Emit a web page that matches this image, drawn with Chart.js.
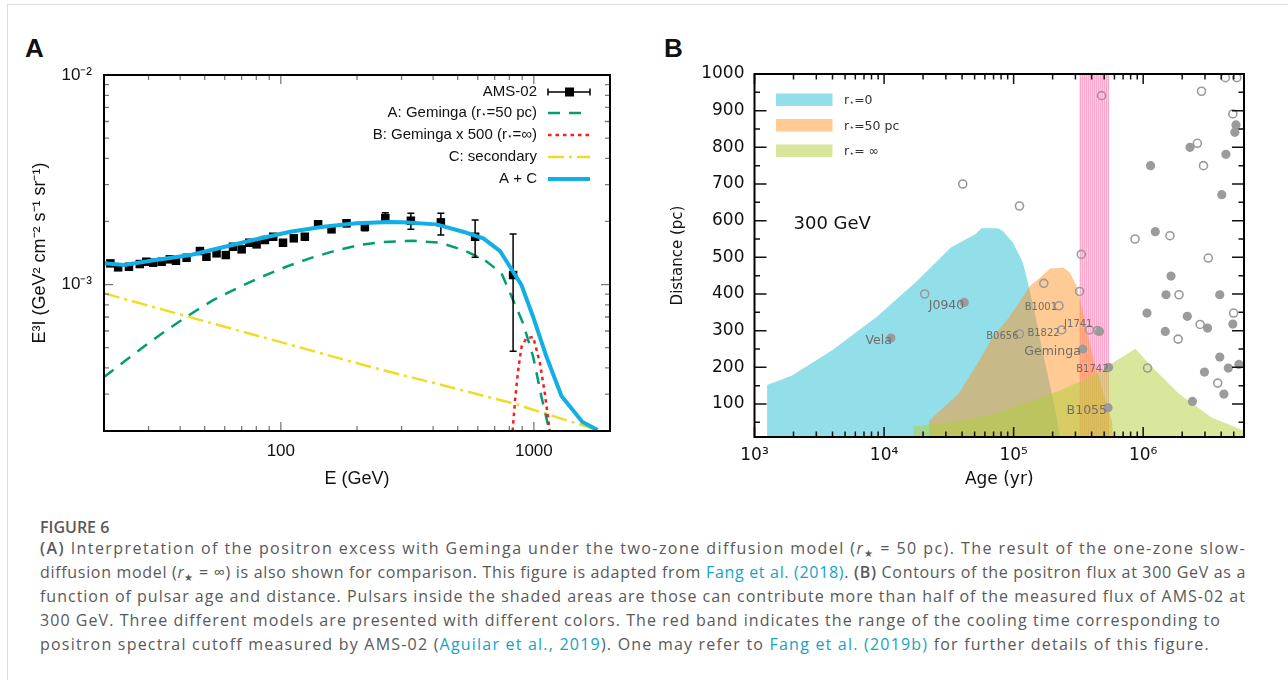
<!DOCTYPE html>
<html>
<head>
<meta charset="utf-8">
<title>Figure 6</title>
<script src="https://cdn.jsdelivr.net/npm/chart.js@4.4.1/dist/chart.umd.min.js"></script>
<style>
  html, body { margin: 0; padding: 0; background: #fff; }
  body { width: 1288px; height: 680px; position: relative; overflow: hidden; }
  .card { position: absolute; left: 7px; top: 4px; width: 1300px; height: 700px; border-left: 1px solid #dcdcdc; border-top: 1px solid #dcdcdc; }
  .tag { position: absolute; top: 33px; font: bold 26px "Liberation Sans", Arial, sans-serif; line-height: 30px; color: #111; }
  canvas { position: absolute; top: 0; }
  #chartA { left: 0; }
  #chartB { left: 640px; }
  .ln { position: absolute; left: 40px; white-space: nowrap; width: max-content; line-height: 24px;
        font-family: "Open Sans", sans-serif; font-size: 16px; color: #595959; }
  .ln.fig { font-weight: 600; font-size: 16px; color: #595959; }
  .ln a { color: #17a2c2; text-decoration: none; }
  .ln b { font-weight: 600; }
  .ln sub { font-size: 10px; vertical-align: -3px; }
</style>
</head>
<body>
<div class="card"></div>
<div class="tag" style="left:25px">A</div>
<div class="tag" style="left:664px">B</div>
<canvas id="chartA" width="640" height="500"></canvas>
<canvas id="chartB" width="648" height="500"></canvas>

<div class="ln fig" style="top:515px">FIGURE 6</div>
<div class="ln" style="top:536px" data-w="1206"><b>(A)</b> Interpretation of the positron excess with Geminga under the two-zone diffusion model (<i>r</i><sub>★</sub> = 50 pc). The result of the one-zone slow-</div>
<div class="ln" style="top:560px" data-w="1206">diffusion model (<i>r</i><sub>★</sub> = ∞) is also shown for comparison. This figure is adapted from <a>Fang et al. (2018)</a>. <b>(B)</b> Contours of the positron flux at 300 GeV as a</div>
<div class="ln" style="top:584px" data-w="1206">function of pulsar age and distance. Pulsars inside the shaded areas are those can contribute more than half of the measured flux of AMS-02 at</div>
<div class="ln" style="top:608px" data-w="1181">300 GeV. Three different models are presented with different colors. The red band indicates the range of the cooling time corresponding to</div>
<div class="ln" style="top:632px" data-w="1170">positron spectral cutoff measured by AMS-02 (<a>Aguilar et al., 2019</a>). One may refer to <a>Fang et al. (2019b)</a> for further details of this figure.</div>

<script>
/* ── Panel A: positron spectrum ── */
const AMS_E    = [21.2, 22.75, 25.1, 27.7, 29.4, 31.3, 33.8, 36.4, 38.5, 42.4, 47.9, 50.8, 55.7, 60.6, 64.7, 70.0,
                  75.0, 80.2, 86.5, 93.3, 102, 112.5, 124.4, 140.4, 158.6, 181.8, 214.8, 258.8, 326.6, 429, 586, 828];
const AMS_FLUX = [1.262e-3, 1.208e-3, 1.216e-3, 1.253e-3, 1.285e-3, 1.271e-3, 1.285e-3, 1.319e-3, 1.299e-3, 1.342e-3,
                  1.445e-3, 1.357e-3, 1.409e-3, 1.383e-3, 1.515e-3, 1.472e-3, 1.583e-3, 1.555e-3, 1.631e-3, 1.691e-3,
                  1.583e-3, 1.662e-3, 1.691e-3, 1.939e-3, 1.834e-3, 1.960e-3, 1.888e-3, 2.077e-3, 2.016e-3, 1.981e-3,
                  1.691e-3, 1.110e-3];
const AMS_ERR_DN = [0.03e-3, 0.03e-3, 0.03e-3, 0.03e-3, 0.03e-3, 0.03e-3, 0.03e-3, 0.03e-3, 0.03e-3, 0.03e-3,
                    0.03e-3, 0.03e-3, 0.03e-3, 0.03e-3, 0.04e-3, 0.04e-3, 0.04e-3, 0.04e-3, 0.04e-3, 0.04e-3,
                    0.05e-3, 0.05e-3, 0.05e-3, 0.06e-3, 0.06e-3, 0.07e-3, 0.08e-3, 0.117e-3, 0.182e-3, 0.258e-3,
                    0.343e-3, 0.629e-3];
const AMS_ERR_UP = [0.03e-3, 0.03e-3, 0.03e-3, 0.03e-3, 0.03e-3, 0.03e-3, 0.03e-3, 0.03e-3, 0.03e-3, 0.03e-3,
                    0.03e-3, 0.03e-3, 0.03e-3, 0.03e-3, 0.04e-3, 0.04e-3, 0.04e-3, 0.04e-3, 0.04e-3, 0.04e-3,
                    0.05e-3, 0.05e-3, 0.05e-3, 0.06e-3, 0.06e-3, 0.07e-3, 0.08e-3, 0.125e-3, 0.172e-3, 0.207e-3,
                    0.341e-3, 0.632e-3];

const GEM_E    = [20, 25, 30, 35, 40, 47, 54, 67, 83, 105, 130, 164, 205, 250, 333, 425, 526, 640, 745, 828, 907, 994, 1072, 1150];
const GEM_FLUX = [0.362e-3, 0.445e-3, 0.525e-3, 0.600e-3, 0.670e-3, 0.760e-3, 0.843e-3, 0.959e-3, 1.082e-3, 1.216e-3,
                  1.334e-3, 1.450e-3, 1.544e-3, 1.595e-3, 1.618e-3, 1.583e-3, 1.461e-3, 1.309e-3, 1.131e-3, 0.843e-3,
                  0.653e-3, 0.452e-3, 0.291e-3, 0.202e-3];

const GEM500_E    = [824, 845, 867, 894, 935, 994, 1057, 1105, 1156];
const GEM500_FLUX = [0.200e-3, 0.290e-3, 0.390e-3, 0.505e-3, 0.554e-3, 0.563e-3, 0.421e-3, 0.303e-3, 0.200e-3];

const SEC_E    = [20, 50, 100, 225, 500, 828, 1000, 1786];
const SEC_FLUX = [0.908e-3, 0.668e-3, 0.531e-3, 0.405e-3, 0.317e-3, 0.271e-3, 0.252e-3, 0.202e-3];

const SUM_E    = [20, 24, 32, 44, 59, 80, 109, 147, 199, 270, 304, 412, 525, 631, 734, 893, 993, 1122, 1286, 1556, 1786];
const SUM_FLUX = [1.262e-3, 1.239e-3, 1.309e-3, 1.383e-3, 1.506e-3, 1.644e-3, 1.787e-3, 1.888e-3, 1.959e-3, 1.987e-3,
                  1.982e-3, 1.937e-3, 1.787e-3, 1.662e-3, 1.449e-3, 0.995e-3, 0.702e-3, 0.452e-3, 0.294e-3, 0.221e-3, 0.202e-3];

const A_X_TICKS = [100, 1000];
const A_X_TICK_LABELS = ['100', '1000'];
const A_X_MINOR = [30, 40, 50, 60, 70, 80, 90, 200, 300, 400, 500, 600, 700, 800, 900];
const A_Y_TICKS = [1e-3, 1e-2];
const A_Y_TICK_LABELS = ['10⁻³', '10⁻²'];
const A_Y_MINOR = [3e-4, 4e-4, 5e-4, 6e-4, 7e-4, 8e-4, 9e-4, 2e-3, 3e-3, 4e-3, 5e-3, 6e-3, 7e-3, 8e-3, 9e-3];

/* ── Panel B: pulsar age vs distance ── */
const CYAN_AGE  = [1.25e3, 1.95e3, 4.0e3, 8.9e3, 1.84e4, 3.28e4, 5.06e4, 5.65e4, 7.54e4, 8.26e4, 9.9e4, 1.18e5,
                   1.29e5, 1.46e5, 1.64e5, 1.85e5, 2.08e5, 2.28e5];
const CYAN_DIST = [152, 178, 247, 339, 439, 527, 563, 579, 579, 572, 540, 485, 430, 348, 256, 173, 91, 10];

const ORANGE_AGE  = [2.22e4, 3.75e4, 5.45e4, 6.9e4, 9.3e4, 1.33e5, 1.64e5, 1.9e5, 2.42e5, 2.72e5, 3.07e5, 3.36e5,
                     3.67e5, 4.02e5, 4.39e5, 4.95e5, 5.41e5, 5.74e5, 5.85e5];
const ORANGE_DIST = [54, 127, 219, 283, 338, 421, 448, 469, 472, 458, 421, 366, 302, 238, 192, 127, 82, 54, 10];

const GREEN_AGE  = [1.68e4, 3.8e4, 6.9e4, 1.26e5, 2.28e5, 4.13e5, 6.28e5, 8.7e5, 1.14e6, 1.89e6, 3.37e6, 6.0e6];
const GREEN_DIST = [38, 54, 72, 104, 137, 178, 219, 251, 205, 128, 63, 27];

const BAND_AGE  = [3.21e5, 5.47e5];
const BAND_DIST = [1000, 1000];

const FILLED_AGE  = [1.13e4, 4.16e4, 3.42e5, 5.4e5, 5.35e5, 4.6e5, 1.14e6, 1.24e6, 1.07e6, 1.64e6, 1.5e6, 1.48e6,
                     2.19e6, 2.3e6, 2.4e6, 2.97e6, 3.14e6, 3.9e6, 3.9e6, 4.04e6, 4.35e6, 4.2e6, 4.54e6, 4.92e6,
                     5.1e6, 5.2e6, 5.48e6];
const FILLED_DIST = [280, 377, 250, 200, 90, 298, 750, 570, 348, 449, 398, 298,
                     339, 800, 107, 187, 307, 398, 228, 671, 781, 127, 198, 318,
                     841, 861, 208];
const OPEN_AGE  = [4.05e4, 2.06e4, 1.11e5, 1.11e5, 1.71e5, 2.24e5, 2.35e5, 3.33e5, 3.23e5, 3.85e5, 4.45e5, 4.78e5,
                   8.65e5, 1.08e6, 1.61e6, 1.89e6, 1.86e6, 2.62e6, 2.75e6, 2.82e6, 2.92e6, 3.18e6, 3.76e6, 4.31e6,
                   4.92e6, 4.99e6, 5.28e6];
const OPEN_DIST = [700, 400, 640, 291, 429, 368, 302, 508, 407, 302, 300, 941,
                   550, 198, 559, 398, 277, 811, 317, 953, 750, 498, 157, 990,
                   891, 348, 990];

const NAMED_PSR  = ['Vela', 'J0940', 'B0656', 'B1001', 'B1822', 'J1741', 'Geminga', 'B1742', 'B1055'];
const NAMED_AGE  = [1.13e4, 4.16e4, 1.11e5, 2.24e5, 2.35e5, 3.85e5, 3.42e5, 5.4e5, 5.35e5];
const NAMED_DIST = [280, 377, 291, 368, 302, 302, 250, 200, 90];

const B_X_TICKS = [1e3, 1e4, 1e5, 1e6];
const B_X_TICK_LABELS = ['10³', '10⁴', '10⁵', '10⁶'];
const B_X_MINOR = [2e3, 3e3, 4e3, 5e3, 6e3, 7e3, 8e3, 9e3, 2e4, 3e4, 4e4, 5e4, 6e4, 7e4, 8e4, 9e4,
                   2e5, 3e5, 4e5, 5e5, 6e5, 7e5, 8e5, 9e5, 2e6, 3e6, 4e6, 5e6];
const B_Y_TICKS = [100, 200, 300, 400, 500, 600, 700, 800, 900, 1000];
const B_Y_MINOR = [50, 150, 250, 350, 450, 550, 650, 750, 850, 950];

const LEGEND_B = ['r⋆=0', 'r⋆=50 pc', 'r⋆= ∞'];

const FONT_A = '"Liberation Sans", Arial, sans-serif';
const FONT_B = '"DejaVu Sans", sans-serif';

const pairs = (xs, ys) => xs.map((x, i) => ({ x, y: ys[i] }));

// text with a small star subscript (r⋆)
function starText(ctx, text, x, y, align, font, smallFont) {
  const parts = text.split('⋆');
  const segs = [];
  parts.forEach((p, i) => {
    if (i > 0) segs.push({ t: '⋆', small: true });
    if (p) segs.push({ t: p, small: false });
  });
  let w = 0;
  segs.forEach(s => { ctx.font = s.small ? smallFont : font; w += ctx.measureText(s.t).width; });
  let cx = align === 'right' ? x - w : x;
  ctx.textAlign = 'left';
  segs.forEach(s => {
    ctx.font = s.small ? smallFont : font;
    ctx.fillText(s.t, cx, y + (s.small ? 1.5 : 0));
    cx += ctx.measureText(s.t).width;
  });
}

// inward ticks on all four sides plus the box
function boxTicks(o) {
  return {
    id: 'boxTicks',
    afterDatasetsDraw(chart) {
      const { ctx, chartArea: { left, right, top, bottom }, scales: { x, y } } = chart;
      ctx.save();
      ctx.strokeStyle = o.color;
      ctx.lineWidth = o.width;
      ctx.beginPath();
      const xt = (vals, len) => vals.forEach(v => {
        const px = x.getPixelForValue(v);
        ctx.moveTo(px, bottom); ctx.lineTo(px, bottom - len);
        ctx.moveTo(px, top); ctx.lineTo(px, top + len);
      });
      const yt = (vals, len) => vals.forEach(v => {
        const py = y.getPixelForValue(v);
        ctx.moveTo(left, py); ctx.lineTo(left + len, py);
        ctx.moveTo(right, py); ctx.lineTo(right - len, py);
      });
      xt(o.xMajor, o.major); xt(o.xMinor, o.minor);
      yt(o.yMajor, o.yMajorLen || o.major); yt(o.yMinor, o.minor);
      ctx.stroke();
      ctx.strokeStyle = '#000';
      ctx.lineWidth = 2;
      ctx.strokeRect(left, top, right - left, bottom - top);
      ctx.restore();
    }
  };
}

/* ── Chart A ── */
const errorBars = {
  id: 'errorBars',
  afterDatasetDraw(chart, args) {
    const ds = chart.data.datasets[args.index];
    if (!ds.errDown) return;
    const { ctx, chartArea: ca, scales: { x, y } } = chart;
    ctx.save();
    ctx.beginPath();
    ctx.rect(ca.left, ca.top, ca.right - ca.left, ca.bottom - ca.top);
    ctx.clip();
    ctx.strokeStyle = '#000';
    ctx.lineWidth = 1.5;
    ctx.beginPath();
    AMS_E.forEach((e, i) => {
      const px = x.getPixelForValue(e);
      const lo = y.getPixelForValue(AMS_FLUX[i] - ds.errDown[i]);
      const hi = y.getPixelForValue(AMS_FLUX[i] + ds.errUp[i]);
      ctx.moveTo(px, lo); ctx.lineTo(px, hi);
      ctx.moveTo(px - 3.5, lo); ctx.lineTo(px + 3.5, lo);
      ctx.moveTo(px - 3.5, hi); ctx.lineTo(px + 3.5, hi);
    });
    ctx.stroke();
    ctx.restore();
  }
};

const legendA = {
  id: 'legendA',
  afterDraw(chart) {
    const ctx = chart.ctx;
    const rows = [92, 113, 135, 157, 179];
    ctx.save();
    ctx.textBaseline = 'middle';
    chart.data.datasets.forEach(ds => {
      const y = rows[ds.legendRow];
      ctx.fillStyle = '#111';
      starText(ctx, ds.label, 537, y, 'right', '15px ' + FONT_A, '9px ' + FONT_B);
      if (ds.showLine) {
        ctx.strokeStyle = ds.borderColor;
        ctx.lineWidth = ds.borderWidth;
        ctx.setLineDash(ds.borderDash || []);
        ctx.beginPath(); ctx.moveTo(548, y); ctx.lineTo(590, y); ctx.stroke();
        ctx.setLineDash([]);
      } else {
        ctx.strokeStyle = '#000';
        ctx.lineWidth = 1.5;
        ctx.beginPath();
        ctx.moveTo(548, y); ctx.lineTo(590, y);
        ctx.moveTo(548, y - 3.5); ctx.lineTo(548, y + 3.5);
        ctx.moveTo(590, y - 3.5); ctx.lineTo(590, y + 3.5);
        ctx.stroke();
        ctx.fillStyle = '#000';
        ctx.fillRect(565, y - 4.5, 9, 9);
      }
    });
    ctx.restore();
  }
};

new Chart(document.getElementById('chartA'), {
  type: 'scatter',
  data: {
    datasets: [
      { label: 'C: secondary', legendRow: 3, data: pairs(SEC_E, SEC_FLUX), showLine: true,
        borderColor: '#f0dc28', borderWidth: 2.5, borderDash: [16, 5, 3, 5], pointRadius: 0, order: 5 },
      { label: 'A: Geminga (r⋆=50 pc)', legendRow: 1, data: pairs(GEM_E, GEM_FLUX), showLine: true,
        borderColor: '#009e73', borderWidth: 2.5, borderDash: [12, 9], pointRadius: 0, order: 4 },
      { label: 'B: Geminga x 500 (r⋆=∞)', legendRow: 2, data: pairs(GEM500_E, GEM500_FLUX), showLine: true,
        borderColor: '#ff1a1a', borderWidth: 2.5, borderDash: [3.5, 4], pointRadius: 0, order: 3 },
      { label: 'AMS-02', legendRow: 0, data: pairs(AMS_E, AMS_FLUX), showLine: false,
        errDown: AMS_ERR_DN, errUp: AMS_ERR_UP,
        pointStyle: 'rect', pointRadius: 6, backgroundColor: '#000', borderWidth: 0, order: 1 },
      { label: 'A + C', legendRow: 4, data: pairs(SUM_E, SUM_FLUX), showLine: true,
        borderColor: '#12aee6', borderWidth: 4, pointRadius: 0, order: 0 }
    ]
  },
  options: {
    responsive: false,
    animation: false,
    events: [],
    layout: { padding: { left: 0, top: 75, right: 30, bottom: 0 } },
    plugins: { legend: { display: false }, tooltip: { enabled: false } },
    scales: {
      x: {
        type: 'logarithmic', min: 20, max: 2000,
        afterBuildTicks: s => { s.ticks = A_X_TICKS.map(v => ({ value: v })); },
        afterFit: s => { s.height = 69; },
        grid: { display: false, drawTicks: false }, border: { display: false },
        ticks: { autoSkip: false, maxRotation: 0, padding: 10, color: '#111',
                 font: { family: FONT_A, size: 17 }, callback: (v, i) => A_X_TICK_LABELS[i] },
        title: { display: true, text: 'E (GeV)', color: '#111', font: { family: FONT_A, size: 18 },
                 padding: { top: 0, bottom: 10 } }
      },
      y: {
        type: 'logarithmic', min: 2e-4, max: 1e-2,
        afterBuildTicks: s => { s.ticks = A_Y_TICKS.map(v => ({ value: v })); },
        afterFit: s => { s.width = 104; },
        grid: { display: false, drawTicks: false }, border: { display: false },
        ticks: { autoSkip: false, padding: 12, color: '#111',
                 font: { family: FONT_A, size: 17 }, callback: (v, i) => A_Y_TICK_LABELS[i] },
        title: { display: true, text: 'E³I (GeV² cm⁻² s⁻¹ sr⁻¹)', color: '#111',
                 font: { family: FONT_A, size: 18 }, padding: { top: 29, bottom: 0 } }
      }
    }
  },
  plugins: [errorBars,
            boxTicks({ color: '#7a7a7a', width: 1.3, major: 9, minor: 5,
                       xMajor: A_X_TICKS, xMinor: A_X_MINOR, yMajor: A_Y_TICKS, yMinor: A_Y_MINOR }),
            legendA]
});

/* ── Chart B ── */
function bandPattern() {
  const c = document.createElement('canvas');
  c.width = 2; c.height = 2;
  const g = c.getContext('2d');
  g.fillStyle = '#ffcde2'; g.fillRect(0, 0, 2, 2);
  g.fillStyle = '#ffa8cd'; g.fillRect(0, 0, 1, 2);
  return g.createPattern(c, 'repeat');
}

const psrLabels = {
  id: 'psrLabels',
  afterDatasetsDraw(chart) {
    const { ctx, scales: { x, y } } = chart;
    // [dx, dy, size] per named pulsar, text right-aligned at the point
    const look = [[1, 3, 12.5], [0, 3, 12.5], [-1, 2, 10], [-2, 2, 10], [-2, 3, 10],
                  [3, -6, 10], [-2, 3, 12.5], [0, 2, 10], [-1, 3, 12.5]];
    ctx.save();
    ctx.textAlign = 'right';
    ctx.textBaseline = 'middle';
    ctx.fillStyle = '#6e6e6e';
    NAMED_PSR.forEach((name, i) => {
      const [dx, dy, size] = look[i];
      ctx.font = size + 'px ' + FONT_B;
      ctx.fillText(name, x.getPixelForValue(NAMED_AGE[i]) + dx, y.getPixelForValue(NAMED_DIST[i]) + dy);
    });
    ctx.fillStyle = '#111';
    ctx.textAlign = 'left';
    ctx.font = '18px ' + FONT_B;
    ctx.fillText('300 GeV', x.getPixelForValue(2e3), y.getPixelForValue(590));
    ctx.restore();
  }
};

const legendB = {
  id: 'legendB',
  afterDraw(chart) {
    const { ctx, chartArea: { left, top } } = chart;
    const ds = chart.data.datasets;
    const fills = [ds[1].backgroundColor, ds[2].backgroundColor, ds[3].backgroundColor];
    ctx.save();
    ctx.textBaseline = 'middle';
    LEGEND_B.forEach((txt, i) => {
      const y0 = top + 19.5 + i * 25.5;
      ctx.fillStyle = fills[i];
      ctx.fillRect(left + 21.5, y0, 56.5, 12.5);
      ctx.fillStyle = '#333';
      starText(ctx, txt, left + 89.5, y0 + 7.5, 'left', '12.5px ' + FONT_B, '8px ' + FONT_B);
    });
    ctx.restore();
  }
};

new Chart(document.getElementById('chartB'), {
  type: 'scatter',
  data: {
    datasets: [
      { label: 'cooling band', data: pairs(BAND_AGE, BAND_DIST), showLine: true, fill: 'start',
        backgroundColor: bandPattern(), borderWidth: 0, pointRadius: 0, order: 10 },
      { label: 'r=0', data: pairs(CYAN_AGE, CYAN_DIST), showLine: true, fill: 'start',
        backgroundColor: 'rgba(38,190,212,0.5)', borderWidth: 0, pointRadius: 0, order: 9 },
      { label: 'r=50', data: pairs(ORANGE_AGE, ORANGE_DIST), showLine: true, fill: 'start',
        backgroundColor: 'rgba(255,150,40,0.5)', borderWidth: 0, pointRadius: 0, order: 8 },
      { label: 'r=inf', data: pairs(GREEN_AGE, GREEN_DIST), showLine: true, fill: 'start',
        backgroundColor: 'rgba(178,208,56,0.5)', borderWidth: 0, pointRadius: 0, order: 7 },
      { label: 'open', data: pairs(OPEN_AGE, OPEN_DIST), pointRadius: 4, pointBorderWidth: 1.6,
        pointBorderColor: '#9a9a9a', pointBackgroundColor: 'rgba(0,0,0,0)', order: 2 },
      { label: 'filled', data: pairs(FILLED_AGE, FILLED_DIST), pointRadius: 4.6, pointBorderWidth: 0,
        pointBackgroundColor: '#9b9b9b', order: 1 }
    ]
  },
  options: {
    responsive: false,
    animation: false,
    events: [],
    layout: { padding: { left: 0, top: 74, right: 44, bottom: 0 } },
    plugins: { legend: { display: false }, tooltip: { enabled: false } },
    scales: {
      x: {
        type: 'logarithmic', min: 1e3, max: 6e6,
        afterBuildTicks: s => { s.ticks = B_X_TICKS.map(v => ({ value: v })); },
        afterFit: s => { s.height = 63; },
        grid: { display: false, drawTicks: false }, border: { display: false },
        ticks: { autoSkip: false, maxRotation: 0, padding: 8, color: '#111',
                 font: { family: FONT_B, size: 17 }, callback: (v, i) => B_X_TICK_LABELS[i] },
        title: { display: true, text: 'Age (yr)', color: '#111', font: { family: FONT_B, size: 17 },
                 padding: { top: 0, bottom: 10 } }
      },
      y: {
        type: 'linear', min: 10, max: 1000,
        afterBuildTicks: s => { s.ticks = B_Y_TICKS.map(v => ({ value: v })); },
        afterFit: s => { s.width = 114.5; },
        grid: { display: false, drawTicks: false }, border: { display: false },
        ticks: { autoSkip: false, padding: 10, color: '#111',
                 font: { family: FONT_B, size: 17 }, callback: (v, i) => String(B_Y_TICKS[i]) },
        title: { display: true, text: 'Distance (pc)', color: '#111', font: { family: FONT_B, size: 15 },
                 padding: { top: 29, bottom: 0 } }
      }
    }
  },
  plugins: [psrLabels,
            boxTicks({ color: '#111', width: 1.5, major: 10, yMajorLen: 12, minor: 5.5,
                       xMajor: B_X_TICKS, xMinor: B_X_MINOR, yMajor: B_Y_TICKS, yMinor: B_Y_MINOR }),
            legendB]
});

/* ── Caption: spread each line to the reference width ── */
document.fonts.ready.then(() => {
  document.querySelectorAll('.ln[data-w]').forEach(el => {
    const target = +el.dataset.w;
    const w = el.getBoundingClientRect().width;
    const n = el.textContent.length;
    el.style.letterSpacing = ((target - w) / n).toFixed(3) + 'px';
  });
});
</script>
</body>
</html>
